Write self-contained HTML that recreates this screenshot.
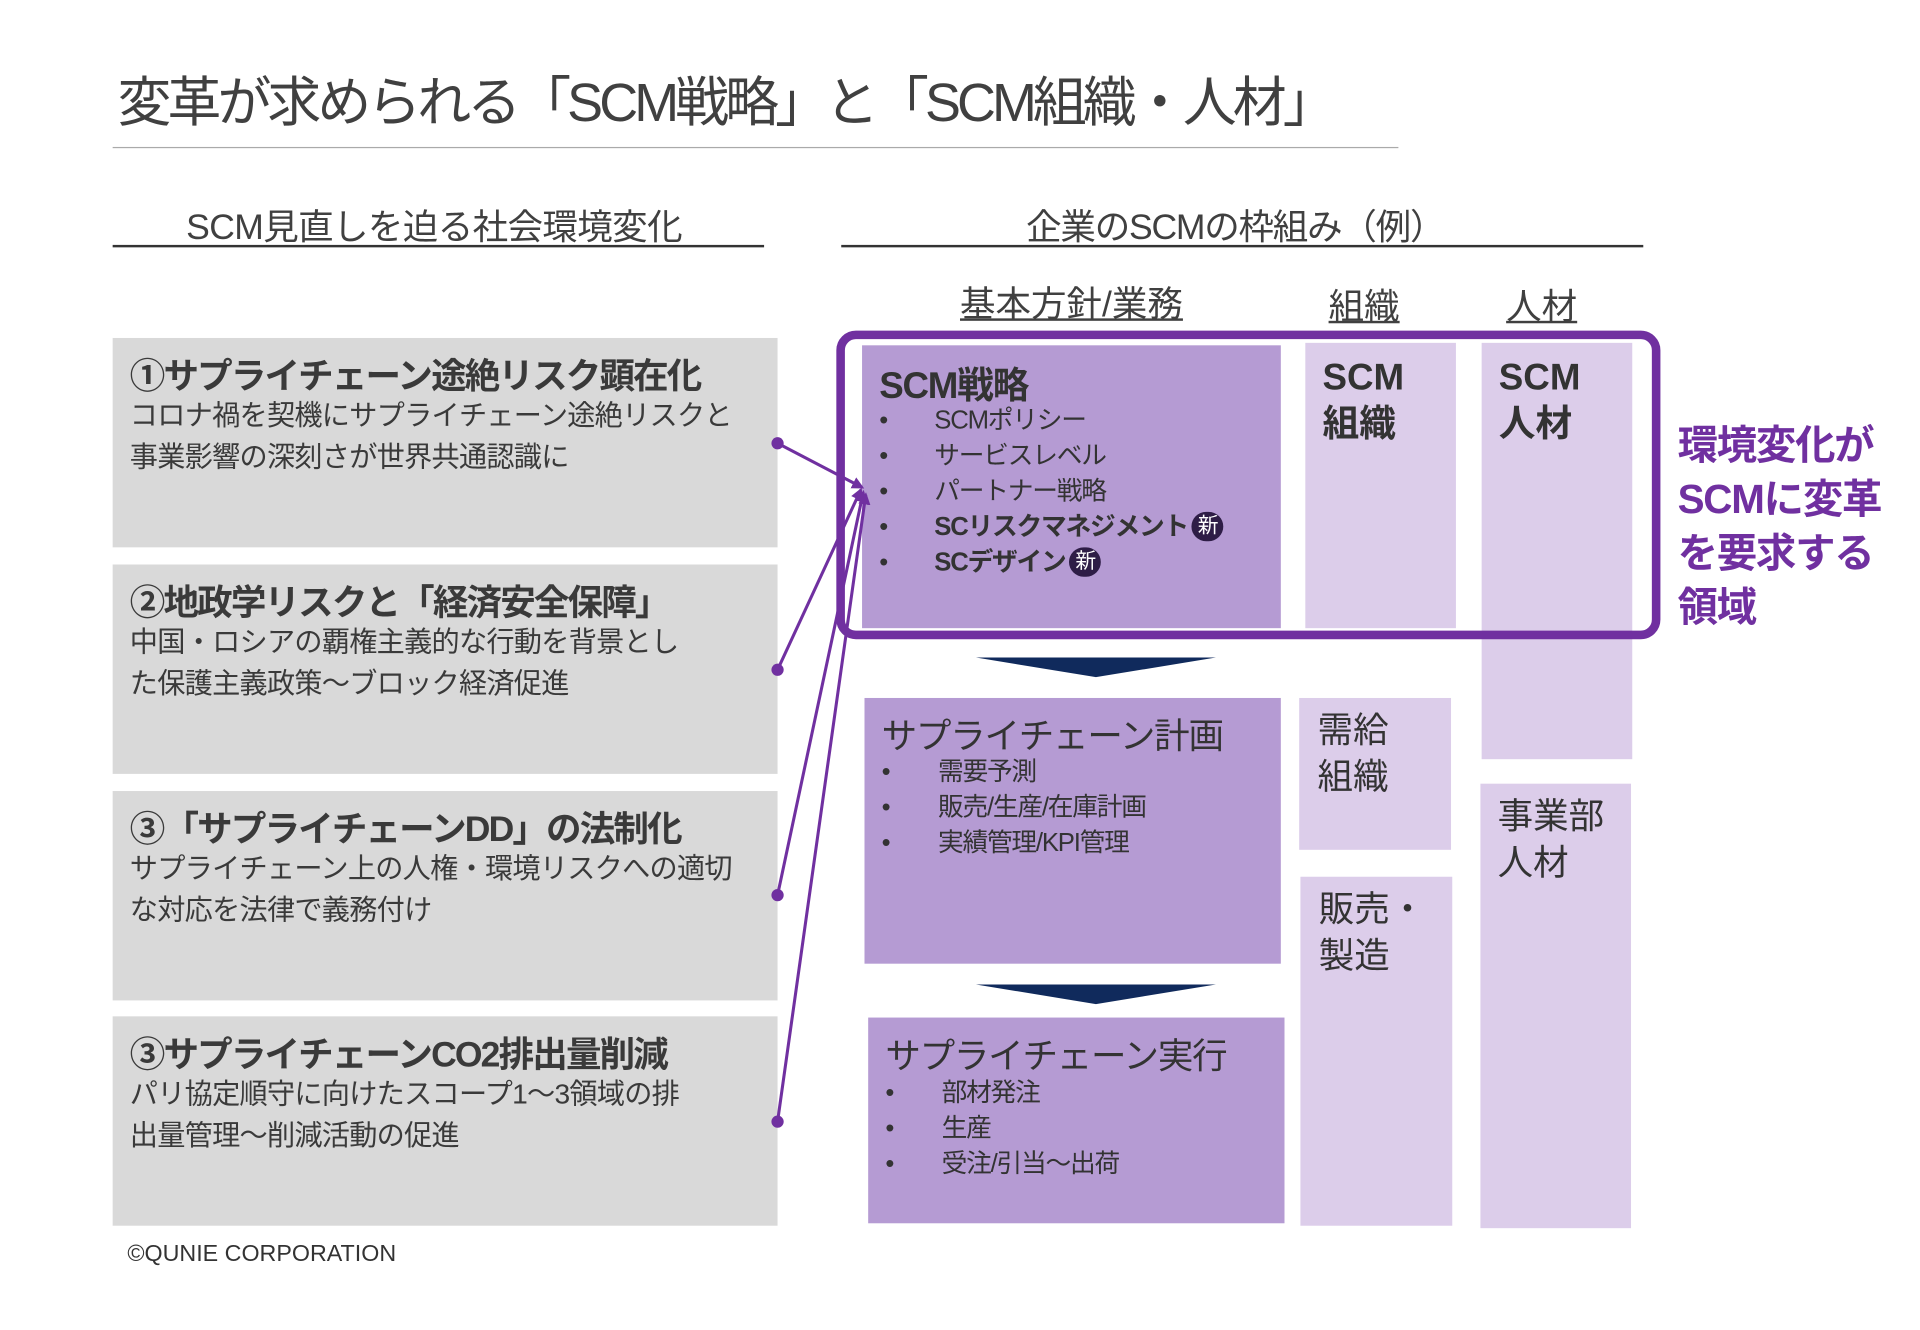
<!DOCTYPE html>
<html><head><meta charset="utf-8">
<style>
html,body{margin:0;padding:0;background:#fff;width:1920px;height:1329px;overflow:hidden}
#c{position:absolute;left:0;top:0;width:1568px;height:1086px;transform:scale(1.2245);transform-origin:0 0;font-family:"Liberation Sans","Noto Sans CJK JP",sans-serif;color:#404040}
.a{position:absolute;white-space:nowrap}
.g{position:absolute;background:#d9d9d9}
.bt{font-weight:bold;font-size:29px;letter-spacing:-1.5px;color:#3a3a3a}
.bd{font-size:23px;letter-spacing:-0.6px;line-height:34px;color:#3a3a3a}
.dk{background:#b59bd3;position:absolute}
.lt{background:#dccdea;position:absolute}
.li{font-size:21px;letter-spacing:-1px;color:#333}
.new{display:inline-block;width:26px;height:24px;border-radius:13px;background:#2e1d46;color:#fff;font-size:17px;line-height:24px;text-align:center;font-weight:normal;vertical-align:2px;margin-left:3px}
</style></head><body><div id="c">
<div class="a" style="left:96px;top:48px;font-size:44px;letter-spacing:-3.2px;color:#404040">変革が求められる「SCM戦略」と「SCM組織・人材」</div>
<div class="a" style="left:92px;top:120px;width:1050px;height:1px;background:#aaa"></div>
<div class="a" style="left:152px;top:162px;font-size:29px;letter-spacing:-0.5px">SCM見直しを迫る社会環境変化</div>
<div class="a" style="left:92px;top:200px;width:532px;height:1.5px;background:#333"></div>
<div class="a" style="left:838px;top:162px;font-size:29px;letter-spacing:-1px">企業のSCMの枠組み（例）</div>
<div class="a" style="left:687px;top:200px;width:655px;height:1.5px;background:#333"></div>
<div class="a" style="left:784px;top:225px;font-size:29px;letter-spacing:0px;text-decoration:underline">基本方針/業務</div>
<div class="a" style="left:1085px;top:227px;font-size:29px;text-decoration:underline">組織</div>
<div class="a" style="left:1230px;top:227px;font-size:29px;text-decoration:underline">人材</div>

<div class="g" style="left:92px;top:276px;width:543px;height:171px"></div>
<div class="g" style="left:92px;top:461px;width:543px;height:171px"></div>
<div class="g" style="left:92px;top:646px;width:543px;height:171px"></div>
<div class="g" style="left:92px;top:830px;width:543px;height:171px"></div>
<div class="a bt" style="left:106px;top:284px">①サプライチェーン途絶リスク顕在化</div>
<div class="a bd" style="left:106px;top:322px">コロナ禍を契機にサプライチェーン途絶リスクと<br>事業影響の深刻さが世界共通認識に</div>
<div class="a bt" style="left:106px;top:469px">②地政学リスクと「経済安全保障」</div>
<div class="a bd" style="left:106px;top:507px">中国・ロシアの覇権主義的な行動を背景とし<br>た保護主義政策～ブロック経済促進</div>
<div class="a bt" style="left:106px;top:654px">③「サプライチェーンDD」の法制化</div>
<div class="a bd" style="left:106px;top:692px">サプライチェーン上の人権・環境リスクへの適切<br>な対応を法律で義務付け</div>
<div class="a bt" style="left:106px;top:838px">③サプライチェーンCO2排出量削減</div>
<div class="a bd" style="left:106px;top:876px">パリ協定順守に向けたスコープ1～3領域の排<br>出量管理～削減活動の促進</div>
<div class="a" style="left:104px;top:1014px;font-size:19px;color:#333">©QUNIE CORPORATION</div>

<div class="dk" style="left:704px;top:282px;width:342px;height:231px"></div>
<div class="lt" style="left:1066px;top:280px;width:123px;height:233px"></div>
<div class="lt" style="left:1210px;top:280px;width:123px;height:340px"></div>
<div class="dk" style="left:706px;top:570px;width:340px;height:217px"></div>
<div class="lt" style="left:1061px;top:570px;width:124px;height:124px"></div>
<div class="lt" style="left:1062px;top:716px;width:124px;height:285px"></div>
<div class="lt" style="left:1209px;top:640px;width:123px;height:363px"></div>
<div class="dk" style="left:709px;top:831px;width:340px;height:168px"></div>
<div class="a" style="left:683px;top:270px;width:659px;height:238px;border:7px solid #7030a0;border-radius:16px"></div>

<div class="a" style="left:718px;top:290px;font-size:30px;font-weight:bold;letter-spacing:-1px;color:#333">SCM戦略</div>
<div class="a li" style="left:718px;top:329px;line-height:29px">•<br>•<br>•<br>•<br>•</div>
<div class="a li" style="left:763px;top:329px;line-height:29px">SCMポリシー<br>サービスレベル<br>パートナー戦略<br><b>SCリスクマネジメント</b><span class="new">新</span><br><b>SCデザイン</b><span class="new">新</span></div>
<div class="a" style="left:1080px;top:290px;font-size:30px;font-weight:bold;line-height:38px;color:#333">SCM<br>組織</div>
<div class="a" style="left:1224px;top:290px;font-size:30px;font-weight:bold;line-height:38px;color:#333">SCM<br>人材</div>
<div class="a" style="left:1370px;top:342px;font-size:33px;font-weight:bold;line-height:44px;letter-spacing:-1px;color:#7030a0">環境変化が<br>SCMに変革<br>を要求する<br>領域</div>

<div class="a" style="left:720px;top:578px;font-size:29px;letter-spacing:-1px;color:#333">サプライチェーン計画</div>
<div class="a li" style="left:720px;top:616px;line-height:29px">•<br>•<br>•</div>
<div class="a li" style="left:766px;top:616px;line-height:29px">需要予測<br>販売/生産/在庫計画<br>実績管理/KPI管理</div>
<div class="a" style="left:1076px;top:578px;font-size:29px;line-height:38px;color:#333">需給<br>組織</div>
<div class="a" style="left:1077px;top:724px;font-size:29px;line-height:38px;color:#333">販売・<br>製造</div>
<div class="a" style="left:1223px;top:648px;font-size:29px;line-height:38px;color:#333">事業部<br>人材</div>
<div class="a" style="left:723px;top:839px;font-size:29px;letter-spacing:-1px;color:#333">サプライチェーン実行</div>
<div class="a li" style="left:723px;top:878px;line-height:29px">•<br>•<br>•</div>
<div class="a li" style="left:769px;top:878px;line-height:29px">部材発注<br>生産<br>受注/引当～出荷</div>

<svg class="a" style="left:0;top:0" width="1568" height="1086">
<defs><marker id="m" markerWidth="10" markerHeight="10" refX="8" refY="5" orient="auto" markerUnits="userSpaceOnUse"><path d="M0,0 L10,5 L0,10 Z" fill="#7030a0"/></marker></defs>
<polygon points="797,537 993,537 895,553" fill="#102a5c"/>
<polygon points="797,804 993,804 895,820" fill="#102a5c"/>
<g stroke="#7030a0" stroke-width="2.5" fill="none" marker-end="url(#m)">
<line x1="635" y1="362" x2="704" y2="398"/>
<line x1="635" y1="547" x2="703" y2="400"/>
<line x1="635" y1="731" x2="705" y2="402"/>
<line x1="635" y1="916" x2="707" y2="404"/>
</g>
<g fill="#7030a0"><circle cx="635" cy="362" r="5"/><circle cx="635" cy="547" r="5"/><circle cx="635" cy="731" r="5"/><circle cx="635" cy="916" r="5"/></g>
</svg>
</div></body></html>
